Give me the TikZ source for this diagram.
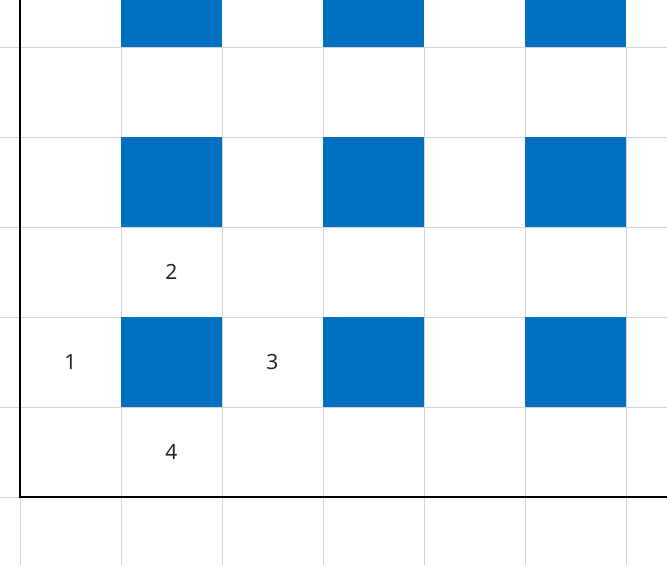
\documentclass[tikz,border=0pt]{standalone}
\usepackage{fontspec}
\setmainfont{Noto Sans}
\definecolor{cellblue}{HTML}{0070C0}
\definecolor{gridgray}{HTML}{D4D4D4}
\tikzset{
  gridline/.style={draw=gridgray, line width=1pt},
  axisline/.style={draw=black, line width=2pt},
  darkcell/.style={fill=cellblue},
  cellnum/.style={font=\fontsize{21}{24}\selectfont, text=black!85, inner sep=0pt}
}
\begin{document}
\begin{tikzpicture}[x=1pt,y=-1pt]
  \useasboundingbox (0,0) rectangle (667,565);
  % grid
  \foreach \gy in {47,137,...,497}
    \draw[gridline] (0,\gy) -- (667,\gy);
  \foreach \gx in {20,121,...,626}
    \draw[gridline] (\gx,47) -- (\gx,565);
  % blue cells
  \foreach \cx in {121,323,525}{
    \fill[darkcell] (\cx,0) rectangle (\cx+101,47);
    \foreach \cy in {137,317}
      \fill[darkcell] (\cx,\cy) rectangle (\cx+101,\cy+90);
  }
  % axes
  \draw[axisline] (20,0) -- (20,497) -- (667,497);
  % numbers
  \node[cellnum] (left) at (70.5,362) {1};
  \node[cellnum] (top) at (171.5,272) {2};
  \node[cellnum] (right) at (272.5,362) {3};
  \node[cellnum] (bottom) at (171.5,452) {4};
\end{tikzpicture}
\end{document}
